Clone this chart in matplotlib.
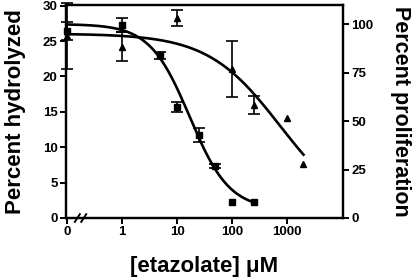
import numpy as np
import matplotlib.pyplot as plt

plt.rcParams['font.family'] = 'Liberation Sans'
plt.rcParams['font.weight'] = 'bold'

# etazolate concentrations (uM); 0 is drawn one decade left of 1 (broken axis)
conc_hyd = [0, 1, 5, 10, 25, 50, 100, 250]
hydrolyzed = [26.4, 27.3, 23.0, 15.7, 11.7, 7.3, 2.3, 2.3]
hydrolyzed_err = [1.3, 1.0, 0.5, 0.75, 0.95, 0.3, 0, 0]

conc_prol = [0, 1, 10, 100, 250, 1000, 2000]
proliferation = [94, 88.4, 103.3, 76.8, 58.5, 51.6, 27.7]
proliferation_err = [17, 7.5, 3.9, 14.5, 4.7, 0, 0]

# fitted sigmoid curves (top, bottom, IC50, hill), range of concentrations
fit_hyd = (27.4, 1.2, 17.0, 1.2)
fit_hyd_range = (0.1, 250)
fit_prol = (95.2, 0.0, 750.0, 0.66)
fit_prol_range = (0.1, 2000)

zero_pos = 0.1


def xpos(c):
    return np.array([zero_pos if v == 0 else v for v in c], dtype=float)


def sigmoid(x, p):
    top, bottom, ic50, h = p
    return bottom + (top - bottom) / (1 + (x / ic50) ** h)


def draw_series(a, conc, y, err, marker, fit, rng):
    x = xpos(conc)
    y = np.array(y)
    err = np.array(err)
    m = err > 0
    a.errorbar(x[m], y[m], yerr=err[m], fmt='none', ecolor='black',
               capsize=4, elinewidth=1.2, capthick=1.2, clip_on=False, zorder=3)
    a.plot(x, y, marker, color='black', markersize=4.5, clip_on=False, zorder=4)
    xf = np.logspace(np.log10(rng[0]), np.log10(rng[1]), 200)
    a.plot(xf, sigmoid(xf, fit), color='black', lw=1.9)


fig = plt.figure(figsize=(4.16, 2.79), dpi=100)
ax = fig.add_axes([66 / 416, 61 / 279, 277 / 416, 213 / 279])
ax2 = ax.twinx()

# hydrolysis = squares on left axis, proliferation = triangles on right axis
draw_series(ax, conc_hyd, hydrolyzed, hydrolyzed_err, 's', fit_hyd, fit_hyd_range)
draw_series(ax2, conc_prol, proliferation, proliferation_err, '^', fit_prol, fit_prol_range)

ax.set_xscale('log')
ax.set_xlim(10 ** -1.02, 10 ** 4.02)
ax.set_ylim(0, 30.1)
ax2.set_ylim(0, 110)

ax.set_xticks([0.1, 1, 10, 100, 1000])
ax.set_xticklabels(['0', '1', '10', '100', '1000'])
ax.xaxis.set_minor_locator(plt.NullLocator())
ax.set_yticks([0, 5, 10, 15, 20, 25, 30])
ax2.set_yticks([0, 25, 50, 75, 100])

for a in (ax, ax2):
    for s in a.spines.values():
        s.set_linewidth(1.6)
    a.tick_params(width=1.4, length=4, labelsize=9.5, pad=2)

ax.set_ylabel('Percent hydrolyzed', fontsize=16, fontweight='bold', labelpad=12)
ax2.set_ylabel('Percent proliferation', fontsize=15.5, fontweight='bold', rotation=270, labelpad=27)
ax.set_xlabel('[etazolate] μM', fontsize=16, fontweight='bold', labelpad=13)

# axis break marks
for x0 in (0.032, 0.055):
    ax.plot([x0, x0 + 0.018], [-0.018, 0.018], transform=ax.transAxes,
            color='black', lw=1.4, clip_on=False)

fig.savefig('out.png', dpi=100)
